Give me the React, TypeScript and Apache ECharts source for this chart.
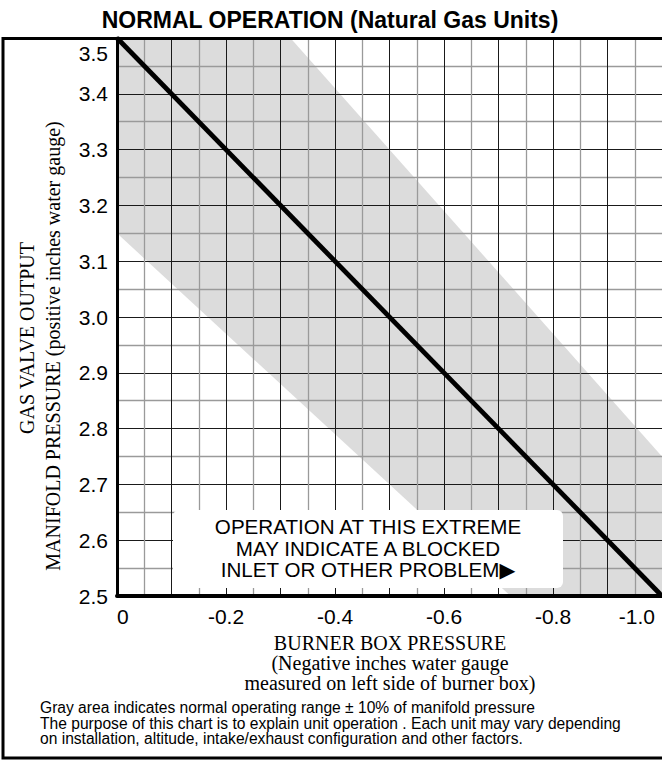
import React, { useEffect, useRef } from 'react';
import * as echarts from 'echarts';

// ---- data ----
const chartTitle = 'NORMAL OPERATION (Natural Gas Units)';
const lineX = [0, -1.0];
const lineY = [3.5, 2.5];
const bandX = [0, -1.0];
const bandUpperY = [3.85, 2.75];
const bandLowerY = [3.15, 2.25];
const xTickLabels = ['0', '-0.2', '-0.4', '-0.6', '-0.8', '-1.0'];
const yTickLabels = ['2.5', '2.6', '2.7', '2.8', '2.9', '3.0', '3.1', '3.2', '3.3', '3.4', '3.5'];
const yTitleLines = ['GAS VALVE OUTPUT', 'MANIFOLD PRESSURE (positive inches water gauge)'];
const xTitleLines = ['BURNER BOX PRESSURE', '(Negative inches water gauge', 'measured on left side of burner box)'];
const noteLines = [
  'Gray area indicates normal operating range \u00B1 10% of manifold pressure',
  'The purpose of this chart is to explain unit operation . Each unit may vary depending',
  'on installation, altitude, intake/exhaust configuration and other factors.',
];
const boxLines = ['OPERATION AT THIS EXTREME', 'MAY INDICATE A BLOCKED', 'INLET OR OTHER PROBLEM\u25B6'];

const SANS = '"Liberation Sans", Arial, Helvetica, "DejaVu Sans", sans-serif';
const SERIF = '"Liberation Serif", "Times New Roman", Times, serif';

export default function App() {
  const ref = useRef<HTMLDivElement>(null);
  useEffect(() => {
    if (!ref.current) return;
    const chart = echarts.init(ref.current, null, { renderer: 'svg' });
    const option: any = {
      animation: false,
      backgroundColor: '#ffffff',
      grid: { left: 117, right: 0, top: 38, bottom: 165, containLabel: false },
      xAxis: {
        type: 'value',
        min: -1.0,
        max: 0,
        inverse: true,
        interval: 0.1,
        z: 2,
        axisLine: { show: true, onZero: false, lineStyle: { color: '#000', width: 4 } },
        axisTick: { show: false },
        minorTick: { show: false, splitNumber: 2 },
        splitLine: { show: true, lineStyle: { color: '#1a1a1a', width: 1 } },
        minorSplitLine: { show: true, lineStyle: { color: '#9a9a9a', width: 1.3 } },
        axisLabel: {
          margin: 10,
          fontFamily: SANS,
          fontSize: 21,
          color: '#000',
          alignMinLabel: 'right',
          alignMaxLabel: 'left',
          formatter: (v: number) => {
            const k = Math.round(-v * 10);
            if (k % 2 !== 0) return '';
            const lbl = xTickLabels[k / 2] ?? '';
            if (k === 10) return '{r|' + lbl + '}';
            return lbl;
          },
          rich: { r: { fontFamily: SANS, fontSize: 21, color: '#000', padding: [0, 7, 0, 0] } },
        },
      },
      yAxis: {
        type: 'value',
        min: 2.5,
        max: 3.5,
        interval: 0.1,
        z: 2,
        axisLine: { show: true, onZero: false, lineStyle: { color: '#000', width: 3 } },
        axisTick: { show: false },
        minorTick: { show: false, splitNumber: 2 },
        splitLine: { show: true, lineStyle: { color: '#1a1a1a', width: 1 } },
        minorSplitLine: { show: true, lineStyle: { color: '#9a9a9a', width: 1.3 } },
        axisLabel: {
          margin: 9,
          fontFamily: SANS,
          fontSize: 21,
          color: '#000',
          formatter: (v: number) => {
            const k = Math.round((v - 2.5) * 10);
            const lbl = yTickLabels[k] ?? '';
            if (k === 10) return '{t|' + lbl + '}';
            return lbl;
          },
          rich: { t: { fontFamily: SANS, fontSize: 21, color: '#000', padding: [30, 0, 0, 0] } },
        },
      },
      series: [
        {
          type: 'custom',
          z: 1,
          clip: true,
          silent: true,
          data: [[bandX[0], bandUpperY[0]]],
          encode: { x: 0, y: 1 },
          renderItem: (params: any, api: any) => {
            const pts: number[][] = [];
            for (let i = 0; i < bandX.length; i++) pts.push(api.coord([bandX[i], bandUpperY[i]]));
            for (let i = bandX.length - 1; i >= 0; i--) pts.push(api.coord([bandX[i], bandLowerY[i]]));
            const cs = params.coordSys;
            return {
              type: 'polygon',
              shape: { points: pts },
              style: { fill: '#dcdcdc', stroke: 'none' },
              clipPath: { type: 'rect', shape: { x: cs.x, y: cs.y, width: cs.width, height: cs.height } },
            };
          },
        },
        {
          type: 'line',
          z: 5,
          symbol: 'none',
          clip: false,
          data: lineX.map((x, i) => [x, lineY[i]]),
          lineStyle: { color: '#000', width: 4.8 },
        },
      ],
      graphic: [
        {
          type: 'rect',
          z: 100,
          shape: { x: 3, y: 38.5, width: 720, height: 719.5 },
          style: { fill: 'none', stroke: '#000', lineWidth: 3 },
        },
        {
          type: 'text',
          z: 100,
          x: 330,
          y: 20,
          style: {
            text: chartTitle,
            fontFamily: SANS,
            fontWeight: 'bold',
            fontSize: 23,
            fill: '#000',
            textAlign: 'center',
            textVerticalAlign: 'middle',
          },
        },
        {
          type: 'text',
          z: 100,
          x: 27,
          y: 338,
          rotation: Math.PI / 2,
          style: {
            text: yTitleLines[0],
            fontFamily: SERIF,
            fontSize: 20,
            fill: '#000',
            textAlign: 'center',
            textVerticalAlign: 'middle',
          },
        },
        {
          type: 'text',
          z: 100,
          x: 53,
          y: 346,
          rotation: Math.PI / 2,
          style: {
            text: yTitleLines[1],
            fontFamily: SERIF,
            fontSize: 20,
            fill: '#000',
            textAlign: 'center',
            textVerticalAlign: 'middle',
          },
        },
        {
          type: 'text',
          z: 100,
          x: 390,
          y: 663,
          style: {
            text: xTitleLines.join('\n'),
            fontFamily: SERIF,
            fontSize: 20,
            lineHeight: 20,
            fill: '#000',
            textAlign: 'center',
            textVerticalAlign: 'middle',
          },
        },
        {
          type: 'text',
          z: 100,
          x: 40,
          y: 723,
          style: {
            text: noteLines.join('\n'),
            fontFamily: SANS,
            fontSize: 15.6,
            lineHeight: 15.5,
            fill: '#000',
            textAlign: 'left',
            textVerticalAlign: 'middle',
          },
        },
        {
          type: 'rect',
          z: 100,
          shape: { x: 173, y: 510, width: 390, height: 78, r: 6 },
          style: { fill: '#ffffff', stroke: 'none' },
        },
        {
          type: 'text',
          z: 101,
          x: 368,
          y: 548,
          style: {
            text: boxLines.join('\n'),
            fontFamily: SANS,
            fontSize: 20.6,
            lineHeight: 21.5,
            fill: '#000',
            textAlign: 'center',
            textVerticalAlign: 'middle',
          },
        },
      ],
    };
    chart.setOption(option);
    return () => chart.dispose();
  }, []);
  return (
    <div
      ref={ref}
      style={{ position: 'absolute', left: 0, top: 0, width: 662, height: 761, background: '#fff' }}
    />
  );
}
